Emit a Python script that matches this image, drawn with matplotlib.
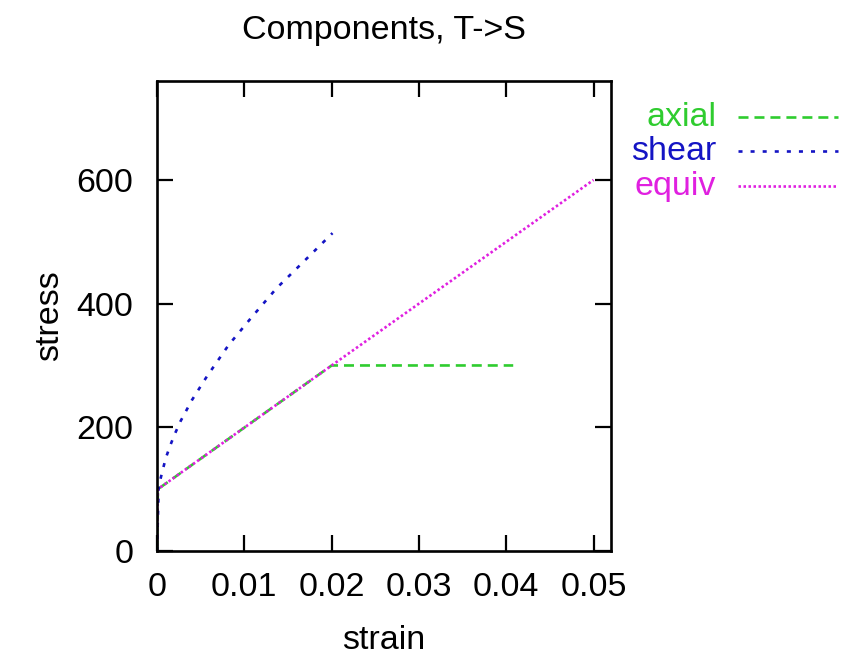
import matplotlib
matplotlib.use("Agg")
import matplotlib.pyplot as plt
from matplotlib.lines import Line2D

# Stress-strain components for the T->S load path
axial_strain = [0.0, 0.0001, 0.02, 0.0408]
axial_stress = [0.0, 100.0, 300.0, 300.0]

shear_strain = [0.0, 0.0002, 0.0006, 0.001, 0.0015, 0.002, 0.0027, 0.004,
                0.0057, 0.0082, 0.0109, 0.0137, 0.0168, 0.0201]
shear_stress = [0.0, 105.0, 128.0, 150.0, 170.0, 188.0, 210.0, 244.0,
                282.0, 333.0, 379.0, 425.0, 468.0, 514.0]

equiv_strain = [0.0, 0.0001, 0.02, 0.05]
equiv_stress = [0.0, 100.0, 300.0, 600.0]

x_ticks = [0.0, 0.01, 0.02, 0.03, 0.04, 0.05]
x_tick_labels = ["0", "0.01", "0.02", "0.03", "0.04", "0.05"]
y_ticks = [0, 200, 400, 600]
y_tick_labels = ["0", "200", "400", "600"]

series_names = ["axial", "shear", "equiv"]
series_colors = ["#2fcc2f", "#1414c4", "#e020e0"]

plt.rcParams["font.family"] = ["Liberation Sans", "DejaVu Sans"]
plt.rcParams["lines.scale_dashes"] = False

FS = 24.5
LW = 1.9
W, H = 843, 658
fig = plt.figure(figsize=(W / 100, H / 100), dpi=100)
ax = fig.add_axes([157 / W, 1 - 551 / H, (611 - 157) / W, (551 - 81) / H])

styles = [(0, (7.2, 4.3)), (0, (2.9, 5.8)), (0, (1.8, 1.8))]
data = [(axial_strain, axial_stress), (shear_strain, shear_stress),
        (equiv_strain, equiv_stress)]
for (xs, ys), c, ls in zip(data, series_colors, styles):
    ax.plot(xs, ys, color=c, lw=LW, ls=ls, solid_capstyle="butt",
            dash_capstyle="butt")

ax.set_xlim(0, 0.052)
ax.set_ylim(0, 760)
ax.set_xticks(x_ticks)
ax.set_xticklabels(x_tick_labels)
ax.set_yticks(y_ticks)
ax.set_yticklabels(y_tick_labels)
ax.tick_params(direction="in", length=11.5, width=1.6, labelsize=FS,
               top=True, right=True, pad=15)
ax.tick_params(axis="y", pad=17)
for s in ax.spines.values():
    s.set_linewidth(1.9)

ax.set_xlabel("strain", fontsize=FS, labelpad=16)
ax.set_ylabel("stress", fontsize=FS, labelpad=8)
ax.set_title("Components, T->S", fontsize=FS, pad=30)

# Key outside the plot area: right-aligned labels with line samples
key_y = [117, 151, 186]
for name, c, ls, yp in zip(series_names, series_colors, styles, key_y):
    fig.text(716 / W, 1 - yp / H, name, color=c, fontsize=FS,
             ha="right", va="center")
    fig.add_artist(Line2D([738 / W, 838 / W], [1 - yp / H, 1 - yp / H],
                          transform=fig.transFigure, color=c, lw=LW, ls=ls,
                          dash_capstyle="butt"))

fig.savefig("out.png", dpi=100)
